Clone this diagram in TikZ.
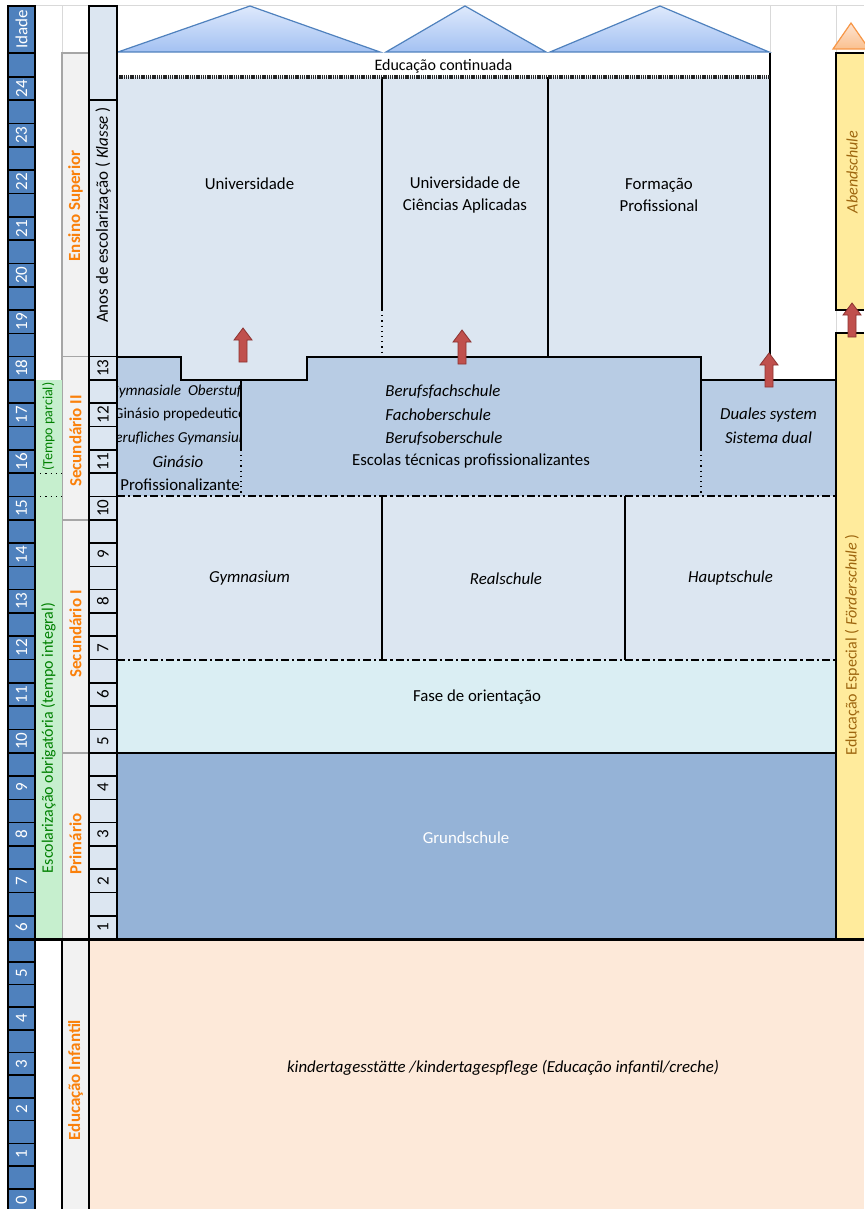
\documentclass[tikz,border=0pt]{standalone}
\usepackage{fontspec}
\setmainfont{Carlito}
\usetikzlibrary{arrows.meta, positioning, calc}

\definecolor{agedark}{RGB}{79,129,189}
\definecolor{paleblue}{RGB}{220,230,241}
\definecolor{midblue}{RGB}{184,204,228}
\definecolor{gsblue}{RGB}{149,179,215}
\definecolor{orientcyan}{RGB}{218,238,243}
\definecolor{peach}{RGB}{253,233,217}
\definecolor{stagegray}{RGB}{242,242,242}
\definecolor{stageline}{RGB}{166,166,166}
\definecolor{gridgray}{RGB}{217,217,217}
\definecolor{stageorange}{RGB}{250,128,10}
\definecolor{mandgreen}{RGB}{198,239,206}
\definecolor{mandtext}{RGB}{0,128,0}
\definecolor{specyellow}{RGB}{255,235,156}
\definecolor{spectext}{RGB}{158,102,15}
\definecolor{arrowred}{RGB}{192,80,77}
\definecolor{arrowdark}{RGB}{140,50,48}
\definecolor{tritop}{RGB}{222,233,252}
\definecolor{tribot}{RGB}{163,193,242}
\definecolor{triline}{RGB}{79,129,189}
\definecolor{otritop}{RGB}{253,228,210}
\definecolor{otribot}{RGB}{250,192,143}
\definecolor{otriline}{RGB}{247,150,70}

\begin{document}
\begin{tikzpicture}[x=0.5pt, y=-0.5pt,
  agecell/.style={draw=black, line width=0.8pt, fill=agedark},
  agelbl/.style={rotate=90, text=white, font=\fontsize{8.5}{10}\selectfont, inner sep=0pt},
  gradecell/.style={draw=black, line width=0.8pt, fill=paleblue},
  gradelbl/.style={rotate=90, font=\fontsize{8.5}{10}\selectfont, inner sep=0pt},
  stagecell/.style={draw=stageline, line width=0.8pt, fill=stagegray},
  stagelbl/.style={rotate=90, text=stageorange, font=\bfseries\fontsize{8.5}{10}\selectfont, inner sep=0pt},
  mandlbl/.style={rotate=90, text=mandtext, font=\fontsize{8}{10}\selectfont, inner sep=0pt},
  speclbl/.style={rotate=90, text=spectext, font=\fontsize{8}{10}\selectfont, inner sep=0pt},
  txt/.style={font=\fontsize{8.4}{11}\selectfont, align=center, inner sep=0pt},
  itxt/.style={font=\fontsize{8.4}{11}\selectfont\itshape, inner sep=0pt},
  gtxt/.style={font=\fontsize{7.6}{10}\selectfont, inner sep=0pt},
  bord/.style={black, line width=0.9pt},
  sepline/.style={black, line width=1pt, dash pattern=on 4pt off 1.5pt on 1.2pt off 1.5pt},
  dotline/.style={black, line width=0.6pt, dotted},
  gridln/.style={gridgray, line width=0.5pt},
  tri/.style={draw=triline, line width=0.6pt, top color=tritop, bottom color=tribot},
  otri/.style={draw=otriline, line width=0.6pt, top color=otritop, bottom color=otribot},
  redarrow/.pic={\filldraw[fill=arrowred, draw=arrowdark, line width=0.4pt] (-4,0) -- (-4,-22) -- (-9,-22) -- (0,-34) -- (9,-22) -- (4,-22) -- (4,0) -- cycle;}
]
  \useasboundingbox (0,0) rectangle (864,1209);
  \fill[white] (0,0) rectangle (864,1209);

  % grid lines and top triangles
  \draw[gridln] (35,6) -- (864,6);
  \draw[gridln] (62,6) -- (62,53);
  \draw[gridln] (770,6) -- (770,53);
  \draw[gridln] (836,6) -- (836,53) (836,310) -- (836,333.3);
  \shadedraw[tri] (118,52) -- (250,6) -- (380,52) -- cycle;
  \shadedraw[tri] (386,52) -- (465,6) -- (546,52) -- cycle;
  \shadedraw[tri] (550,52) -- (660,6) -- (769,52) -- cycle;
  \shadedraw[otri] (833,49) -- (851,23) -- (869,49) -- cycle;

  % ensino superior
  \fill[paleblue] (117,77) -- (770,77) -- (770,379.9) -- (701,379.9) -- (701,356.6) -- (307,356.6)
    -- (307,379.9) -- (181,379.9) -- (181,356.6) -- (117,356.6) -- cycle;
  \node[txt, font=\fontsize{8}{10}\selectfont] (cont) at (443.5,66) {Educação continuada};
  \draw[bord] (770,53) -- (770,379.9);
  \draw[bord] (548,77) -- (548,356.6);
  \draw[bord] (382,77) -- (382,310);
  \draw[dotline] (382,310) -- (382,356.6);
  \draw[black!85, line width=1.6pt, dash pattern=on 0.7pt off 0.4pt] (117,77) -- (770,77);
  \node[txt] (uni) at (249.5,184) {Universidade};
  \node[txt] (uca) at (465,195) {Universidade de\\Ciências Aplicadas};
  \node[txt] (fp) at (659,195) {Formação\\Profissional};

  % secundario II
  \fill[midblue] (117,356.6) -- (181,356.6) -- (181,379.9) -- (241,379.9) -- (241,496.4) -- (117,496.4) -- cycle;
  \fill[midblue] (241,379.9) -- (307,379.9) -- (307,356.6) -- (701,356.6) -- (701,496.4) -- (241,496.4) -- cycle;
  \fill[midblue] (701,379.9) rectangle (836,496.4);
  \draw[bord] (117,356.6) -- (181,356.6) -- (181,379.9) -- (307,379.9) -- (307,356.6) -- (701,356.6)
    -- (701,379.9) -- (836,379.9);
  \draw[bord] (241,379.9) -- (241,449.8);
  \draw[dotline] (241,449.8) -- (241,496.4);
  \draw[bord] (701,379.9) -- (701,449.8);
  \draw[dotline] (701,449.8) -- (701,496.4);
  \begin{scope}
    \clip (117,356.6) rectangle (241,496.4);
    \node[gtxt, font=\fontsize{7.6}{10}\selectfont\itshape] (gym1) at (179,391.6) {Gymnasiale\ \ Oberstufe};
    \node[gtxt] (gym2) at (180,414.9) {Ginásio propedeutico};
    \node[gtxt, font=\fontsize{7.6}{10}\selectfont\itshape] (gym3) at (179,438.2) {Berufliches Gymansium};
    \node[itxt] (gym4) at (178,461.5) {Ginásio};
    \node[txt] (gym5) at (180,484.8) {Profissionalizante};
  \end{scope}
  \node[itxt, anchor=west] (bfs) at (385,391.6) {Berufsfachschule};
  \node[itxt, anchor=west] (fos) at (385,414.9) {Fachoberschule};
  \node[itxt, anchor=west] (bos) at (385,438.2) {Berufsoberschule};
  \node[txt] (etp) at (471,461.5) {Escolas técnicas profissionalizantes};
  \node[itxt] (dual1) at (768.5,414.9) {Duales system};
  \node[itxt] (dual2) at (768.5,438.2) {Sistema dual};

  % secundario I, orientacao, grundschule
  \fill[paleblue] (117,496.4) rectangle (836,659.5);
  \draw[bord] (382,496.4) -- (382,659.5) (625,496.4) -- (625,659.5);
  \node[itxt] (gymn) at (249.5,578.3) {Gymnasium};
  \node[itxt] (real) at (506,578.3) {Realschule};
  \node[itxt] (haupt) at (730.5,578.3) {Hauptschule};
  \fill[orientcyan] (117,659.5) rectangle (836,752.8);
  \node[txt] (orient) at (477,697) {Fase de orientação};
  \fill[gsblue] (117,752.8) rectangle (836,939);
  \node[txt, text=white] (grund) at (466,838) {Grundschule};
  \draw[sepline] (117,496.4) -- (836,496.4);
  \draw[sepline] (117,659.5) -- (836,659.5);
  \draw[bord] (117,752.8) -- (836,752.8);

  % right column
  \fill[specyellow] (836,53) rectangle (864,310);
  \fill[specyellow] (836,333.3) rectangle (864,939);
  \draw[bord] (864,53) -- (836,53) -- (836,310) -- (864,310);
  \draw[bord] (864,333.3) -- (836,333.3) -- (836,939);
  \node[speclbl] (abend) at (852,172) {\itshape Abendschule};
  \node[speclbl] (espec) at (852,645) {Educação Especial ( \textit{Förderschule} )};

  % educacao infantil
  \fill[peach] (89,939) rectangle (864,1209);
  \node[itxt] (kita) at (503,1068) {kindertagesstätte /kindertagespflege (Educação infantil/creche)};

  % stage column
  \draw[stagecell] (62,53) rectangle (89,356.6);
  \draw[stagecell] (62,356.6) rectangle (89,519.7);
  \draw[stagecell] (62,519.7) rectangle (89,752.8);
  \draw[stagecell] (62,752.8) rectangle (89,939);
  \fill[stagegray] (62,939) rectangle (89,1209);
  \draw[black, line width=1.3pt] (62,939) -- (62,1209);
  \draw[black, line width=0.6pt] (89,939) -- (89,1209);
  \node[stagelbl] (sup) at (75.5,206) {Ensino Superior};
  \node[stagelbl] (sec2) at (75.5,441) {Secundário II};
  \node[stagelbl] (sec1) at (75.5,634) {Secundário I};
  \node[stagelbl] (prim) at (75.5,844) {Primário};
  \node[stagelbl] (inf) at (75.5,1080) {Educação Infantil};

  % mandatory schooling column
  \fill[mandgreen] (35,379.9) rectangle (62,939);
  \draw[dotline] (35,473.1) -- (62,473.1) (35,496.4) -- (62,496.4);
  \node[mandlbl, font=\fontsize{7}{8}\selectfont] (parc) at (48.5,426.5) {(Tempo parcial)};
  \node[mandlbl] (integ) at (48.5,738) {Escolarização obrigatória (tempo integral)};

  % age column
  \draw[agecell] (8,6) rectangle (35,53);
  \node[agelbl] (idade) at (21.5,29.5) {Idade};
  \draw[agecell] (8,53) rectangle (35,77);
  \foreach \r in {0,...,36}
    \draw[agecell] (8,{77+\r*23.3}) rectangle (35,{77+(\r+1)*23.3});
  \foreach \a in {6,...,24}
    \node[agelbl] (age\a) at (21.5,{77+(24-\a)*46.6+11.65}) {\a};
  \foreach \s in {0,...,11}
    \draw[agecell] (8,{939+\s*22.7}) rectangle (35,{939+(\s+1)*22.7});
  \foreach \a in {0,...,5}
    \node[agelbl] (age\a) at (21.5,{939+(11-2*\a)*22.7+11.35}) {\a};

  % grade column
  \draw[gradecell] (89,6) rectangle (117,100.3);
  \draw[gradecell] (89,100.3) rectangle (117,356.6);
  \node[gradelbl] (anos) at (103,215) {Anos de escolarização ( \textit{Klasse} )};
  \foreach \r in {12,...,36}
    \draw[gradecell] (89,{77+\r*23.3}) rectangle (117,{77+(\r+1)*23.3});
  \foreach \g in {1,...,13}
    \node[gradelbl] (grade\g) at (103,{77+(38-2*\g)*23.3+11.65}) {\g};

  \draw[black, line width=1.5pt] (8,939) -- (864,939);

  % arrows
  \pic (arr1) at (243,362) {redarrow};
  \pic (arr2) at (462,364) {redarrow};
  \pic (arr3) at (769,387) {redarrow};
  \pic (arr4) at (852,337) {redarrow};
\end{tikzpicture}
\end{document}
